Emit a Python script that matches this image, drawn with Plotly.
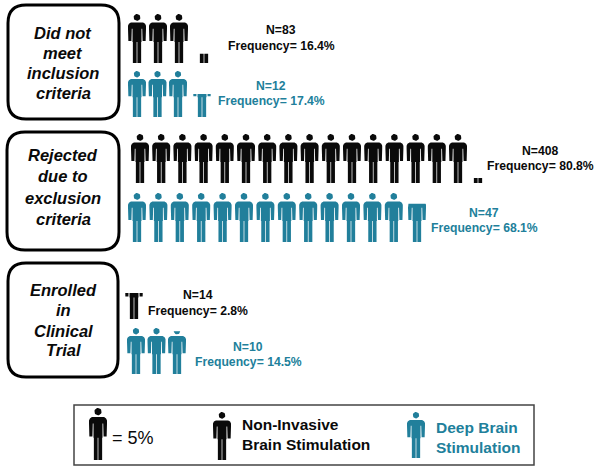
import math
import plotly.graph_objects as go

# ---- data ----
categories = [["Did not", "meet", "inclusion", "criteria"],
              ["Rejected", "due to", "exclusion", "criteria"],
              ["Enrolled", "in", "Clinical", "Trial"]]
groups = ["Non-Invasive", "Deep Brain"]
n_black = [83, 408, 14]
n_teal = [12, 47, 10]
freq_black = [16.4, 80.8, 2.8]
freq_teal = [17.4, 68.1, 14.5]
# icons as drawn in the picture (whole icons + visible part of the last one)
icons_black = [3.19, 16.10, 0.52]
icons_teal = [3.50, 13.78, 2.93]

# ---- layout ----
BLACK = "#0a0a0a"
TEAL = "#217F9B"
W, H = 601, 472
ICON_W = 18
# per-row: first centre, spacing, centre of partial icon, top, bottom, text cx, N y, Freq y
black_rows = [(137, 21, 204, 14, 63, 281, 30, 46),
              (140, 21.2, 478, 134, 183, 540, 151, 166),
              (134, 21, 134, 293 - 24, 319, 198, 295, 311)]
teal_rows = [(137, 20.5, 202, 71, 117, 271, 86, 101),
             (137, 21.4, 417, 193, 242, 484, 213, 228),
             (136, 20.5, 177, 328, 374, 248, 347, 362)]
boxes = [(8, 5, 119, 119), (7, 132, 119, 250), (8, 263, 118, 377)]
label_ys = [(33, 53, 73, 93), (155, 176, 198, 219), (290, 310, 331, 350)]
label_x = 63

BODY = [
    [(0, .70), (0, .76), (.05, .80), (.16, .825), (.84, .825), (.95, .80), (1, .76), (1, .70)],
    [(.02, .45), (0, .70), (.21, .70), (.19, .45)],
    [(.81, .45), (.79, .70), (1, .70), (.98, .45)],
    [(.25, .43), (.25, .70), (.75, .70), (.75, .43)],
    [(.27, 0), (.27, .43), (.48, .43), (.48, 0)],
    [(.52, 0), (.52, .43), (.73, .43), (.73, 0)],
]


def clip(poly, f):
    out = []
    for i, (a, b) in enumerate(zip(poly, poly[1:] + poly[:1])):
        if a[1] <= f:
            out.append(a)
        if (a[1] <= f) != (b[1] <= f):
            t = (f - a[1]) / (b[1] - a[1])
            out.append((a[0] + t * (b[0] - a[0]), f))
    return out


def person(cx, top, bottom, f=1.0):
    h = bottom - top
    xs, ys = [], []
    r = 0.07 * h
    head = [(0.5 + r / ICON_W * math.sin(2 * math.pi * k / 24),
             0.93 + 0.07 * math.cos(2 * math.pi * k / 24)) for k in range(24)]
    for poly in BODY + [head]:
        p = clip(poly, f)
        if len(p) < 3:
            continue
        xs += [cx + (u - .5) * ICON_W for u, _ in p] + [cx + (p[0][0] - .5) * ICON_W, None]
        ys += [bottom - v * h for _, v in p] + [bottom - p[0][1] * h, None]
    return xs, ys


def row_icons(count, row):
    x0, dx, xp, top, bottom = row[:5]
    whole = int(count)
    xs, ys = [], []
    for i in range(whole):
        a, b = person(x0 + i * dx, top, bottom)
        xs += a
        ys += b
    frac = count - whole
    if frac > 0:
        a, b = person(xp, top, bottom, frac)
        xs += a
        ys += b
    return xs, ys


fig = go.Figure()


def add_group(name, counts, rows, color):
    xs, ys = [], []
    for c, r in zip(counts, rows):
        a, b = row_icons(c, r)
        xs += a
        ys += b
    fig.add_trace(go.Scatter(x=xs, y=ys, mode="lines", fill="toself", fillcolor=color,
                             line=dict(width=0, color=color), name=name,
                             hoverinfo="skip", showlegend=False))


add_group(groups[0], icons_black, black_rows, BLACK)
add_group(groups[1], icons_teal, teal_rows, TEAL)
# legend icons
add_group("key", [1], [(98, 0, 0, 408, 460)], BLACK)
add_group("key", [1], [(222, 0, 0, 412, 460)], BLACK)
add_group("key", [1], [(416, 0, 0, 412, 458)], TEAL)

ann = []


def text(x, y, s, size=12.2, color=BLACK, anchor="center"):
    ann.append(dict(x=x, y=y, text=s, showarrow=False, xanchor=anchor, yanchor="middle",
                    font=dict(family="Liberation Sans", size=size, color=color)))


for n, f, r in zip(n_black, freq_black, black_rows):
    text(r[5], r[6], f"<b>N={n}</b>")
    text(r[5], r[7], f"<b>Frequency= {f}%</b>")
for n, f, r in zip(n_teal, freq_teal, teal_rows):
    text(r[5], r[6], f"<b>N={n}</b>", color=TEAL)
    text(r[5], r[7], f"<b>Frequency= {f}%</b>", color=TEAL)
for lines, ysl in zip(categories, label_ys):
    for s, y in zip(lines, ysl):
        text(label_x, y, f"<b><i>{s}</i></b>", size=16.5)

text(110, 438, "= 5%", size=18, anchor="left")
text(240, 424, "<b>Non-Invasive</b>", size=15.5, anchor="left")
text(240, 444, "<b>Brain Stimulation</b>", size=15.5, anchor="left")
text(434, 427, "<b>Deep Brain</b>", size=15.5, color=TEAL, anchor="left")
text(434, 447, "<b>Stimulation</b>", size=15.5, color=TEAL, anchor="left")


def rounded(x0, y0, x1, y1, r=18):
    return (f"M{x0+r},{y0} L{x1-r},{y0} Q{x1},{y0} {x1},{y0+r} L{x1},{y1-r} "
            f"Q{x1},{y1} {x1-r},{y1} L{x0+r},{y1} Q{x0},{y1} {x0},{y1-r} "
            f"L{x0},{y0+r} Q{x0},{y0} {x0+r},{y0} Z")


shapes = [dict(type="path", path=rounded(*b), line=dict(color="black", width=3),
               xref="x", yref="y") for b in boxes]
shapes.append(dict(type="rect", x0=74, y0=405, x1=534, y1=465, xref="x", yref="y",
                   line=dict(color="#444444", width=1.5)))

fig.update_layout(
    width=W, height=H, margin=dict(l=0, r=0, t=0, b=0),
    paper_bgcolor="white", plot_bgcolor="white", showlegend=False,
    xaxis=dict(range=[0, W], visible=False, fixedrange=True),
    yaxis=dict(range=[H, 0], visible=False, fixedrange=True),
    shapes=shapes, annotations=ann,
)
fig.write_html("out.html", config=dict(displayModeBar=False),
               default_width=f"{W}px", default_height=f"{H}px",
               post_script="document.body.style.margin='0';")
